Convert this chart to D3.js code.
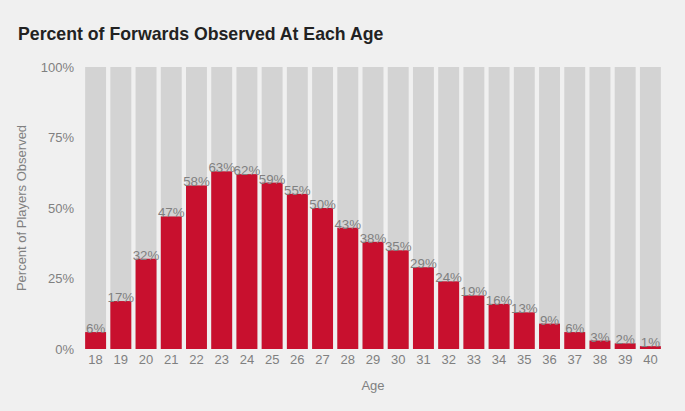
<!DOCTYPE html>
<html><head><meta charset="utf-8">
<script src="https://cdn.jsdelivr.net/npm/d3@7"></script>
<style>
body{margin:0;background:#f0f0f0;}
svg{display:block;font-family:"Liberation Sans",Arial,sans-serif;}
</style></head>
<body>
<svg id="c" width="685" height="411"></svg>
<script>
const ages = [18,19,20,21,22,23,24,25,26,27,28,29,30,31,32,33,34,35,36,37,38,39,40];
const pct = [6,17,32,47,58,63,62,59,55,50,43,38,35,29,24,19,16,13,9,6,3,2,1];
const yTicks = [0,25,50,75,100];

const svg = d3.select("#c");
svg.append("rect").attr("width",685).attr("height",411).attr("fill","#f0f0f0");

const x = d3.scaleBand().domain(ages).range([83,663]).paddingInner(0.17).paddingOuter(0.085);
const y = d3.scaleLinear().domain([0,100]).range([349,67]);

svg.append("text").attr("x",18).attr("y",40).attr("font-size",17.7).attr("font-weight","bold")
  .attr("fill","#222").text("Percent of Forwards Observed At Each Age");

// background bars
svg.append("g").selectAll("rect").data(ages).join("rect")
  .attr("x",d=>x(d)).attr("width",x.bandwidth())
  .attr("y",y(100)).attr("height",y(0)-y(100)).attr("fill","#d3d3d3");

// value bars
svg.append("g").selectAll("rect").data(pct).join("rect")
  .attr("x",(d,i)=>x(ages[i])).attr("width",x.bandwidth())
  .attr("y",d=>y(d)).attr("height",d=>y(0)-y(d)).attr("fill","#c8102e");

// labels
svg.append("g").selectAll("text").data(pct).join("text")
  .attr("x",(d,i)=>x(ages[i])+x.bandwidth()/2).attr("y",d=>y(d)+1)
  .attr("text-anchor","middle").attr("font-size",13.3).attr("fill","#808080")
  .text(d=>d+"%");

// y axis
const ya = svg.append("g").attr("transform","translate(74,0)")
  .call(d3.axisLeft(y).tickValues(yTicks).tickFormat(d=>d+"%").tickSize(0).tickPadding(0));
ya.select(".domain").remove();
ya.selectAll("text").attr("font-size",13).attr("fill","#808080").attr("font-family","Liberation Sans, Arial, sans-serif");

// x axis
const xa = svg.append("g").attr("transform","translate(0,352)")
  .call(d3.axisBottom(x).tickSize(0).tickPadding(3));
xa.select(".domain").remove();
xa.selectAll("text").attr("font-size",13).attr("fill","#808080").attr("font-family","Liberation Sans, Arial, sans-serif");

svg.append("text").attr("x",373).attr("y",390).attr("text-anchor","middle")
  .attr("font-size",13).attr("fill","#808080").text("Age");
svg.append("text").attr("transform","translate(26,208) rotate(-90)").attr("text-anchor","middle")
  .attr("font-size",13).attr("fill","#808080").text("Percent of Players Observed");
</script>
</body></html>
